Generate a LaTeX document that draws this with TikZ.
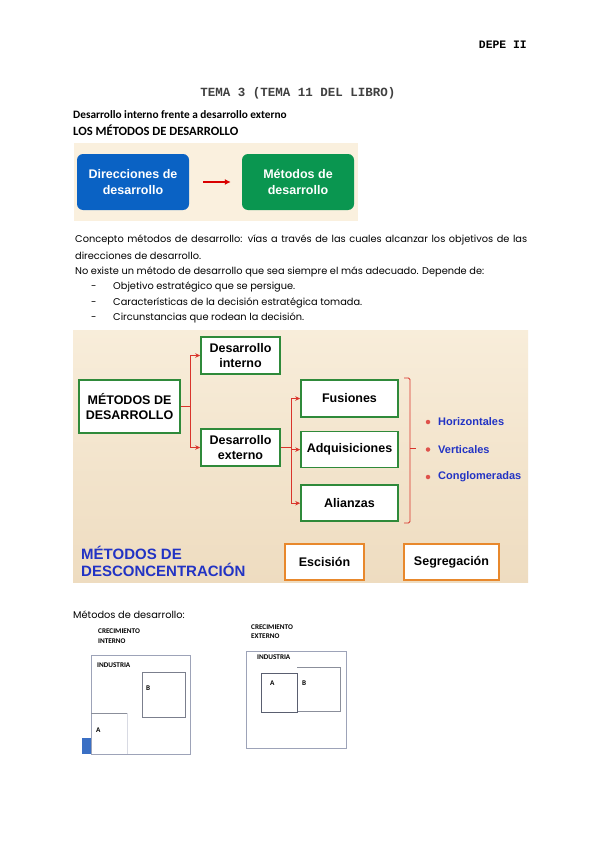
\documentclass[tikz,border=0pt]{standalone}
\usepackage{fontspec}
\setmainfont{Poppins}
\newfontfamily\arialfont{Liberation Sans}
\newfontfamily\calibrifont{Carlito}
\newfontfamily\typefont{Liberation Mono}
\usetikzlibrary{arrows.meta,positioning}
\definecolor{dirblue}{HTML}{0A62C4}
\definecolor{metgreen}{HTML}{0A9650}
\definecolor{introbg}{HTML}{FAF0DE}
\definecolor{slidetop}{HTML}{F8EDDA}
\definecolor{slidebot}{HTML}{EEDCC0}
\definecolor{boxgreen}{HTML}{2F8A3A}
\definecolor{linkred}{HTML}{D9342B}
\definecolor{typeblue}{HTML}{2233C4}
\definecolor{splitorange}{HTML}{E8882C}
\definecolor{framegray}{HTML}{9DA3B8}
\definecolor{edgegray}{HTML}{5A5F70}
\definecolor{markblue}{HTML}{3A6FC4}
\newcommand{\slidefont}{\arialfont\bfseries\fontsize{12.5}{15}\selectfont}
\hyphenpenalty=10000
\exhyphenpenalty=10000

\begin{document}
\begin{tikzpicture}[
  x=1pt, y=-1pt,
  body/.style={font=\fontsize{9.8}{17}\selectfont, inner sep=0pt, anchor=base west},
  methbox/.style={draw=boxgreen, line width=1.6pt, fill=white, align=center, font=\slidefont, inner sep=0pt},
  splitbox/.style={draw=splitorange, line width=1.5pt, fill=white, font=\slidefont, inner sep=0pt, minimum height=36pt},
  introbox/.style={rounded corners=6pt, align=center, text=white, font=\arialfont\bfseries\fontsize{12.5}{16}\selectfont, minimum width=112pt, minimum height=56pt, inner sep=0pt},
  tipo/.style={font=\arialfont\bfseries\fontsize{11}{13}\selectfont, text=typeblue, anchor=west, inner sep=0pt},
  dot/.style={circle, fill=linkred!85, inner sep=0pt, minimum size=4.5pt},
  redlink/.style={draw=linkred, line width=0.9pt, -{Stealth[length=5pt,width=4.5pt]}},
  tiny/.style={font=\calibrifont\bfseries\fontsize{7.2}{9.5}\selectfont, inner sep=0pt, anchor=base west, align=left}
]
\useasboundingbox[fill=white] (0,0) rectangle (600,848);

% header
\node[font=\typefont\bfseries\fontsize{11.4}{13}\selectfont, anchor=base east, inner sep=0pt] (depe) at (527,49) {DEPE II};
\node[font=\typefont\bfseries\fontsize{12.5}{14}\selectfont, text=black!75, anchor=base, inner sep=0pt] (tema) at (298,97) {TEMA 3 (TEMA 11 DEL LIBRO)};
\node[font=\calibrifont\bfseries\fontsize{11.3}{13}\selectfont, anchor=base west, inner sep=0pt] (frente) at (73,118) {Desarrollo interno frente a desarrollo externo};
\node[font=\calibrifont\bfseries\fontsize{12.6}{14}\selectfont, anchor=base west, inner sep=0pt] (losmet) at (73,135.5) {LOS MÉTODOS DE DESARROLLO};

% direcciones -> metodos
\fill[introbg] (74,143) rectangle (358,221);
\node[introbox, fill=dirblue] (dirb) at (133,182) {Direcciones de\\desarrollo};
\node[introbox, fill=metgreen] (metb) at (298,182) {Métodos de\\desarrollo};
\draw[-{Latex[length=6pt,width=6pt]}, red!85!black, line width=1.6pt, shorten <=14pt, shorten >=11pt] (dirb) -- (metb);

% texto
\node[body, text width=452pt, align=justify] (concepto) at (75,242) {Concepto métodos de desarrollo: vías a través de las cuales alcanzar los objetivos de las direcciones de desarrollo.};
\node[body] (noexiste) at (75,274) {No existe un método de desarrollo que sea siempre el más adecuado. Depende de:};
\foreach \txt [count=\i] in {Objetivo estratégico que se persigue., Características de la decisión estratégica tomada., Circunstancias que rodean la decisión.}{
  \node[body] (guion\i) at (91,274+15.5*\i) {-};
  \node[body] (item\i) at (113,274+15.5*\i) {\txt};
}

% metodos de desarrollo
\shade[top color=slidetop, bottom color=slidebot] (73,330) rectangle (528,582);
\node[methbox, minimum width=101pt, minimum height=53pt] (mdd) at (129.5,406.5) {MÉTODOS DE\\DESARROLLO};
\node[methbox, minimum width=79pt, minimum height=37pt] (di) at (240.5,355.5) {Desarrollo\\interno};
\node[methbox, minimum width=79pt, minimum height=37pt] (de) at (240.5,447.5) {Desarrollo\\externo};
\node[methbox, minimum width=97pt, minimum height=37pt] (fus) at (349.5,398.5) {Fusiones};
\node[methbox, minimum width=97pt, minimum height=36pt, below=13pt of fus] (adq) {Adquisiciones};
\node[methbox, minimum width=97pt, minimum height=36pt, below=16pt of adq] (ali) {Alianzas};

\draw[redlink] (mdd.east) -- ++(10,0) |- (di.west);
\draw[redlink] (mdd.east) -- ++(10,0) |- (de.west);
\draw[redlink] (de.east) -- ++(11,0) |- (fus.west);
\draw[redlink] (de.east) -- ++(11,0) |- (adq.west);
\draw[redlink] (de.east) -- ++(11,0) |- (ali.west);

% llave
\coordinate (brtop) at (410,378);
\coordinate (brbot) at (410,523);
\coordinate (brmid) at (410,448);
\draw[linkred, line width=0.9pt, rounded corners=1.5pt] ([xshift=-6pt]brtop) -- (brtop) -- (brbot) -- ([xshift=-6pt]brbot);
\draw[linkred, line width=0.9pt] (brmid) -- ++(6,0);
\foreach \lbl [count=\i] in {Horizontales,Verticales,Conglomeradas}{
  \node[dot] (dot\i) at (428,394.5+27.5*\i) {};
  \node[tipo] (tipo\i) at (438,394.5+27.5*\i) {\lbl};
}

% desconcentracion
\node[font=\arialfont\bfseries\fontsize{15}{17}\selectfont, text=typeblue, align=left, anchor=west, inner sep=0pt] (mdc) at (81,561.5) {MÉTODOS DE\\DESCONCENTRACIÓN};
\node[splitbox, minimum width=79pt] (esc) at (324.5,562) {Escisión};
\node[splitbox, minimum width=95pt] (seg) at (451.5,562) {Segregación};

\node[body] (metdes) at (73,618) {Métodos de desarrollo:};

% crecimiento interno
\node[tiny] (ci) at (98,643) {CRECIMIENTO\\INTERNO};
\draw[framegray, line width=0.8pt] (91,655) rectangle (190,754);
\node[tiny] (indi) at (97,667.5) {INDUSTRIA};
\draw[edgegray!80, line width=0.8pt] (142,672) rectangle (185,717);
\node[tiny] (bi) at (146,690.5) {B};
\draw[edgegray!70, line width=0.8pt] (91,713) -- (127,713);
\draw[framegray!40, line width=0.6pt] (127,713) -- (127,754);
\node[tiny] (ai) at (96,732.5) {A};
\fill[markblue] (82,738) rectangle (91,754);

% crecimiento externo
\node[tiny] (ce) at (251,638.5) {CRECIMIENTO\\EXTERNO};
\draw[framegray, line width=0.8pt] (246,651) rectangle (346,748);
\node[tiny] (inde) at (257,659.5) {INDUSTRIA};
\draw[edgegray!70, line width=0.8pt] (297,711) -- (340,711) -- (340,667) -- (297,667);
\draw[edgegray, line width=0.8pt] (261,673) rectangle (297,712);
\node[tiny] (ae) at (270,685) {A};
\node[tiny] (be) at (302,685) {B};
\end{tikzpicture}
\end{document}
